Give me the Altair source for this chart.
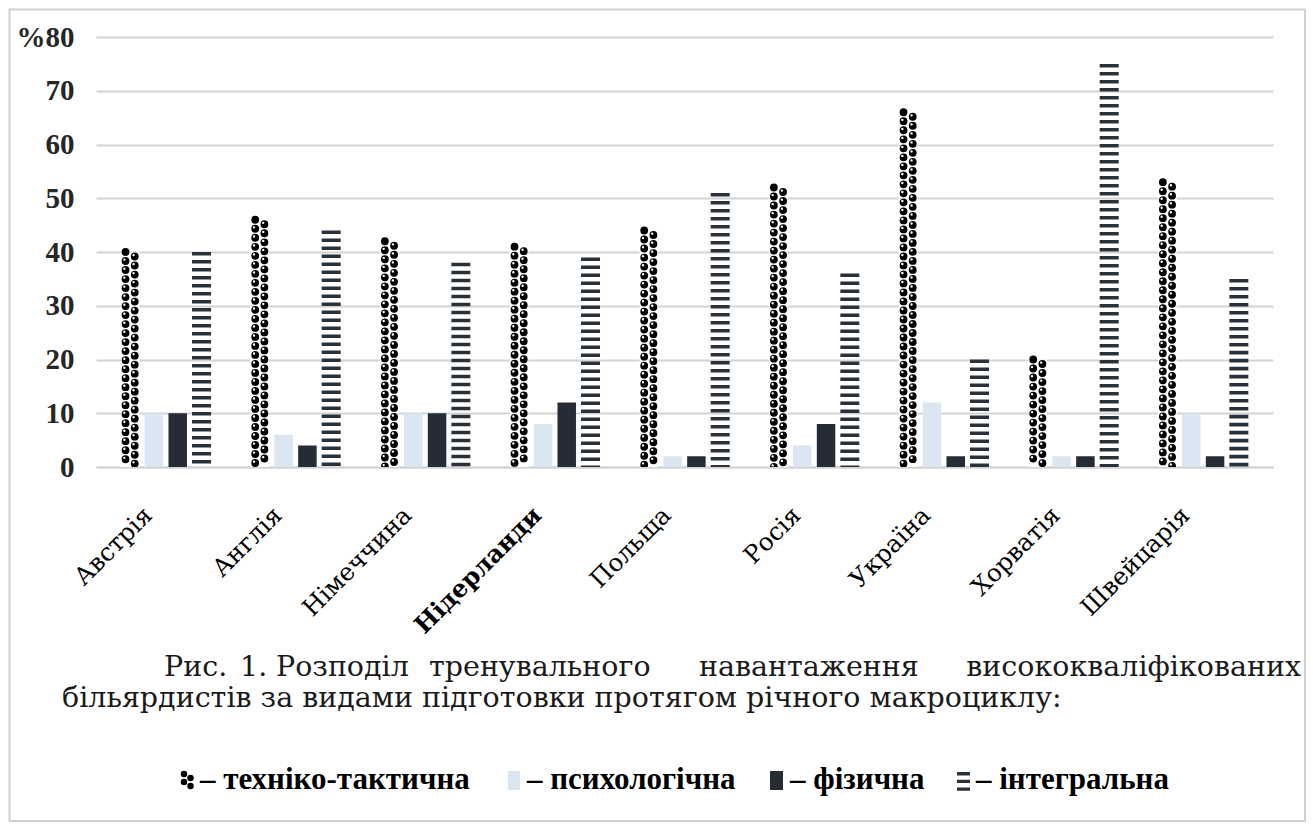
import altair as alt
import pandas as pd

# Training-load shares (%) by country and type of preparation
countries = ["Австрія", "Англія", "Німеччина", "Нідерланди", "Польща",
             "Росія", "Україна", "Хорватія", "Швейцарія"]
series = ["техніко-тактична", "психологічна", "фізична", "інтегральна"]
tech = [40, 46, 42, 41, 44, 52, 66, 20, 53]
psych = [10, 6, 10, 8, 2, 4, 12, 2, 10]
phys = [10, 4, 10, 12, 2, 8, 2, 2, 2]
integral = [40, 44, 38, 39, 51, 36, 20, 75, 35]

caption_line1 = ["Рис.", "1.", "Розподіл", "тренувального", "навантаження",
                 "висококваліфікованих"]
caption_line2 = "більярдистів за видами підготовки протягом річного макроциклу:"
legend_labels = ["– техніко-тактична", "– психологічна", "– фізична", "– інтегральна"]

W, H = 1177, 430
BAR_W = 18.5
SLOT = 24 / (W / len(countries))   # spacing of the four bars inside a group, in category units

rows = []
for s_i, (name, vals) in enumerate(zip(series, [tech, psych, phys, integral])):
    for c_i, (c, v) in enumerate(zip(countries, vals)):
        rows.append({"country": c, "series": name, "value": v,
                     "pos": c_i + (s_i - 1.5) * SLOT})
df = pd.DataFrame(rows)

SERIF = "Liberation Serif"
WIDE_SERIF = "DejaVu Serif"
DARK = "#262c36"
LIGHT = "#dce6f2"
STRIPE = "#2b313b"
GRID = "#d3d3d3"

names_js = "[" + ",".join("'%s'" % c for c in countries) + "]"
x_enc = alt.X(
    "pos:Q", title=None,
    scale=alt.Scale(domain=[-0.5, len(countries) - 0.5], nice=False, zero=False),
    axis=alt.Axis(
        values=list(range(len(countries))), labelExpr=names_js + "[datum.value]",
        labelAngle=-45, labelFont=WIDE_SERIF, labelFontSize=24.5, labelColor="#000000",
        labelFontWeight={"condition": {"test": "datum.value == 3", "value": "bold"},
                         "value": "normal"},
        labelOverlap=False, labelFlush=False,
        labelPadding=36, labelOffset=-26, ticks=False, domain=True,
        domainColor=GRID, domainWidth=2, grid=False,
    ),
)
y_enc = alt.Y(
    "value:Q", title=None, scale=alt.Scale(domain=[0, 80]),
    axis=alt.Axis(
        values=list(range(0, 81, 10)), labelFont=SERIF, labelFontSize=29,
        labelFontWeight="bold", labelColor="#262626", labelPadding=22,
        labelExpr="datum.value == 80 ? '%80' : datum.label",
        domain=False, ticks=False, grid=True, gridColor=GRID, gridWidth=2,
    ),
)

base = alt.Chart(df).encode(x=x_enc, y=y_enc)

# solid bars: psychological and physical
solid = base.transform_filter(
    alt.FieldOneOfPredicate(field="series", oneOf=["психологічна", "фізична"])
).mark_bar(width=BAR_W).encode(
    color=alt.Color("series:N", legend=None,
                    scale=alt.Scale(domain=["психологічна", "фізична"], range=[LIGHT, DARK]))
)

# technical-tactical: white column filled with a two-column dot pattern
tech_base = base.transform_filter(alt.datum.series == "техніко-тактична")
tech_bg = tech_base.mark_bar(width=BAR_W, color="white")


def dot_column(offset, dash_offset, width, color):
    return tech_base.mark_rule(strokeWidth=width, strokeCap="round", strokeDash=[0.01, 9],
                               strokeDashOffset=dash_offset, color=color, xOffset=offset,
                               clip=True).encode(y2=alt.datum(0))


dots = [
    dot_column(-4.6, 0, 7.8, "#000000"),
    dot_column(4.6, 4.5, 7.8, "#000000"),
    dot_column(-5.8, 1.4, 2.4, "#ffffff"),
    dot_column(3.4, 5.9, 2.4, "#ffffff"),
]

# integral: horizontal stripes
stripes = base.transform_filter(alt.datum.series == "інтегральна").mark_rule(
    strokeWidth=19, strokeDash=[3.6, 4.4], color=STRIPE
).encode(y2=alt.datum(0))

one = alt.Chart(pd.DataFrame({"k": [0]}))

# caption (justified first line, second line flush left)
CAP_SIZE = 28.5
cap_x = [68, 144, 180, 333, 603, 1205]
caption = []
for word, cx in zip(caption_line1, cap_x):
    caption.append(one.mark_text(font=WIDE_SERIF, fontSize=CAP_SIZE, color="#1a1a1a",
                                 align="right" if word == caption_line1[-1] else "left",
                                 baseline="middle").encode(
        x=alt.value(cx), y=alt.value(630), text=alt.value(word)))
caption.append(one.mark_text(font=WIDE_SERIF, fontSize=CAP_SIZE, color="#1a1a1a", align="left",
                             baseline="middle").encode(
    x=alt.value(-34), y=alt.value(661), text=alt.value(caption_line2)))

# legend row
leg_x = [104, 431, 694, 880]
legend = []
for lab, lx in zip(legend_labels, leg_x):
    legend.append(one.mark_text(font=SERIF, fontSize=31, fontWeight="bold",
                                color="#000000", align="left", baseline="middle").encode(
        x=alt.value(lx), y=alt.value(743), text=alt.value(lab)))
legend += [
    one.mark_rule(strokeWidth=6.5, strokeCap="round", strokeDash=[0.01, 8],
                  color="#000000").encode(x=alt.value(88), y=alt.value(737), y2=alt.value(752)),
    one.mark_rule(strokeWidth=6.5, strokeCap="round", strokeDash=[0.01, 8],
                  strokeDashOffset=4, color="#000000").encode(
        x=alt.value(94.5), y=alt.value(737), y2=alt.value(752)),
    one.mark_rect(color=LIGHT).encode(x=alt.value(412), x2=alt.value(424),
                                      y=alt.value(734), y2=alt.value(753)),
    one.mark_rect(color=DARK).encode(x=alt.value(674), x2=alt.value(687),
                                     y=alt.value(734), y2=alt.value(753)),
    one.mark_rule(strokeWidth=13, strokeDash=[3.4, 4.3], color=STRIPE).encode(
        x=alt.value(867.5), y=alt.value(735), y2=alt.value(755)),
]

frame = one.mark_rect(filled=False, stroke="#cfcfcf", strokeWidth=2).encode(
    x=alt.value(-86.5), x2=alt.value(1209), y=alt.value(-27.5), y2=alt.value(784))

chart = alt.layer(
    solid, tech_bg, *dots, stripes, frame, *caption, *legend
).properties(
    width=W, height=H,
    autosize=alt.AutoSizeParams(type="none"),
    padding={"left": 96, "top": 37, "right": 40, "bottom": 361},
    background="white",
).configure_view(stroke=None)

chart.save("out.html", embed_options={"renderer": "svg", "actions": False})
